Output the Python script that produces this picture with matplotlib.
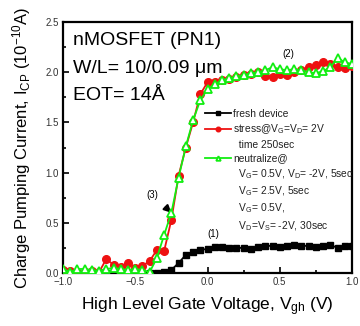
import numpy as np
import matplotlib
matplotlib.use("Agg")
import matplotlib.pyplot as plt
from matplotlib.lines import Line2D
from matplotlib.ticker import MultipleLocator

plt.rcParams['font.family'] = ['Liberation Sans', 'DejaVu Sans']
plt.rcParams['mathtext.fontset'] = 'custom'
plt.rcParams['mathtext.rm'] = 'Liberation Sans'
plt.rcParams['mathtext.it'] = 'Liberation Sans:italic'
plt.rcParams['mathtext.bf'] = 'Liberation Sans:bold'

# ---- data ----
vgh = [-1.00, -0.95, -0.90, -0.85, -0.80, -0.75, -0.70, -0.65, -0.60, -0.55,
       -0.50, -0.45, -0.40, -0.35, -0.30, -0.25, -0.20, -0.15, -0.10, -0.05,
       0.00, 0.05, 0.10, 0.15, 0.20, 0.25, 0.30, 0.35, 0.40, 0.45,
       0.50, 0.55, 0.60, 0.65, 0.70, 0.75, 0.80, 0.85, 0.90, 0.95, 1.00]

fresh = [0.00, 0.00, 0.00, 0.00, 0.00, 0.00, 0.00, 0.00, 0.00, 0.00,
         0.00, 0.00, 0.00, 0.00, 0.01, 0.03, 0.10, 0.18, 0.21, 0.23,
         0.24, 0.26, 0.26, 0.25, 0.25, 0.25, 0.24, 0.26, 0.27, 0.27,
         0.26, 0.27, 0.28, 0.27, 0.27, 0.26, 0.27, 0.28, 0.25, 0.27, 0.27]

stress = [0.03, 0.02, 0.00, 0.01, 0.02, 0.01, 0.14, 0.08, 0.06, 0.10,
          0.05, 0.07, 0.12, 0.23, 0.22, 0.53, 0.97, 1.25, 1.50, 1.78,
          1.90, 1.90, 1.92, 1.93, 1.95, 1.97, 1.98, 2.00, 1.96, 1.95,
          1.98, 1.97, 2.00, 2.02, 2.05, 2.07, 2.10, 2.08, 2.05, 2.04, 2.06]

neutral = [0.04, 0.01, 0.04, 0.04, 0.03, 0.02, 0.04, 0.05, 0.04, 0.03,
           0.04, 0.03, 0.01, 0.15, 0.38, 0.60, 0.95, 1.26, 1.52, 1.72,
           1.83, 1.88, 1.92, 1.94, 1.96, 1.97, 1.99, 2.00, 2.02, 2.05,
           2.03, 2.02, 2.03, 2.02, 2.00, 1.99, 2.01, 2.05, 2.14, 2.10, 2.08]

legend_labels = ["fresh device",
                 r"stress@V$_\mathrm{G}$=V$_\mathrm{D}$= 2V",
                 "  time 250sec",
                 "neutralize@",
                 r"  V$_\mathrm{G}$= 0.5V, V$_\mathrm{D}$= -2V, 5sec",
                 r"  V$_\mathrm{G}$= 2.5V, 5sec",
                 r"  V$_\mathrm{G}$= 0.5V,",
                 r"  V$_\mathrm{D}$=V$_\mathrm{S}$= -2V, 30sec"]

RED = '#ee1111'
GREEN = '#11ee11'

fig = plt.figure(figsize=(3.6, 3.26), dpi=100)
ax = fig.add_axes([63/360, (326-273)/326, 289/360, 251/326])

l1, = ax.plot(vgh, fresh, '-s', color='black', ms=5, lw=1.3, zorder=3)
l2, = ax.plot(vgh, stress, '-o', color=RED, ms=5.5, lw=1.3, zorder=4)
l3, = ax.plot(vgh, neutral, '-^', color=GREEN, mfc='white', mec=GREEN, mew=1.3,
              ms=5.5, lw=1.3, zorder=5)

ax.set_xlim(-1.0, 1.0)
ax.set_ylim(0.0, 2.5)
ax.xaxis.set_major_locator(MultipleLocator(0.5))
ax.xaxis.set_minor_locator(MultipleLocator(0.25))
ax.yaxis.set_major_locator(MultipleLocator(0.5))
ax.yaxis.set_minor_locator(MultipleLocator(0.25))
ax.tick_params(which='both', direction='in', top=False, right=False,
               labelsize=7, labelcolor='#333333', width=1.2)
ax.tick_params(which='major', length=4, pad=3)
ax.tick_params(which='minor', length=2.5)
for s in ax.spines.values():
    s.set_linewidth(1.6)

ax.set_xlabel(r"High Level Gate Voltage, V$_\mathrm{gh}$ (V)", fontsize=12.5, labelpad=6)
ax.set_ylabel(r"Charge Pumping Current, I$_\mathrm{CP}$ (10$^{-10}$A)", fontsize=12, labelpad=9)

ax.text(0.035, 0.908, "nMOSFET (PN1)", transform=ax.transAxes, fontsize=14)
ax.text(0.035, 0.798, "W/L= 10/0.09 \u03bcm", transform=ax.transAxes, fontsize=14)
ax.text(0.035, 0.688, "EOT= 14\u00c5", transform=ax.transAxes, fontsize=14)

ax.text(0.04, 0.36, "(1)", fontsize=7, ha='center')
ax.text(0.56, 2.15, "(2)", fontsize=7, ha='center')
ax.annotate("(3)", xy=(-0.25, 0.60), xytext=(-0.38, 0.78), fontsize=7,
            ha='center', va='center',
            arrowprops=dict(arrowstyle='-|>', color='black', lw=1.6,
                            mutation_scale=10, shrinkA=5, shrinkB=0))

blank = Line2D([], [], linestyle='none')
handles = [l1, l2, blank, l3, blank, blank, blank, blank]
leg = ax.legend(handles, legend_labels, loc='upper left',
                bbox_to_anchor=(0.49, 0.655), frameon=False, fontsize=7.4,
                handlelength=2.6, handletextpad=0.2, labelspacing=0.36,
                borderpad=0, borderaxespad=0, markerscale=0.6)
for t in leg.get_texts():
    t.set_color('#222222')

fig.savefig("out.png", dpi=100)
